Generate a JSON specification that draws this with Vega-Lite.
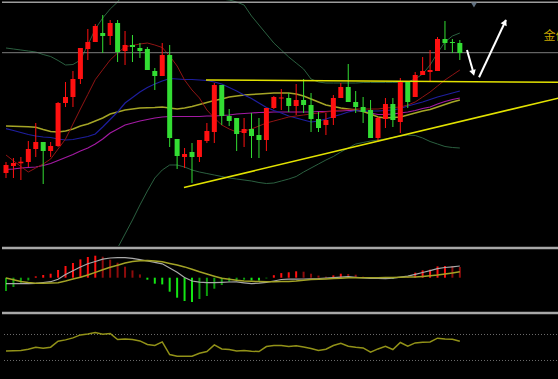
{
"$schema":"https://vega.github.io/schema/vega-lite/v6.json",
"background":"#000000",
"padding":0,
"spacing":0,
"config":{"view":{"stroke":null}},
"resolve":{"scale":{"x":"independent","y":"independent","color":"independent"}},
"datasets":{
"k":[
{"i":0,"o":73,"c":81,"hi":84,"lo":68,"m1":91,"m2":117.3,"m3":120,"m4":76.5,"ub":198,"lb":-60,"hs":-1.33,"tr":"dw","dif":-0.6,"dea":-0.02,"rsi":44.6},
{"i":1,"o":80,"c":83,"hi":88,"lo":68,"m1":85.2,"m2":115.5,"m3":119.7,"m4":77,"ub":197,"lb":-62,"hs":-0.93,"tr":"dw","dif":-0.6,"dea":-0.2,"rsi":45.1},
{"i":2,"o":82.7,"c":84.3,"hi":89,"lo":66,"m1":79.5,"m2":113.5,"m3":119.5,"m4":78,"ub":196,"lb":-64,"hs":-0.5,"tr":"dw","dif":-0.6,"dea":-0.38,"rsi":45.4},
{"i":3,"o":84,"c":97,"hi":105,"lo":79,"m1":74,"m2":111.5,"m3":119.2,"m4":78.5,"ub":195,"lb":-66,"hs":-0.27,"tr":"dw","dif":-0.6,"dea":-0.48,"rsi":47.4},
{"i":4,"o":97,"c":104,"hi":123,"lo":89,"m1":78,"m2":110,"m3":118.8,"m4":79,"ub":194,"lb":-68,"hs":0.13,"tr":"up","dif":-0.57,"dea":-0.56,"rsi":50.5},
{"i":5,"o":104,"c":95,"hi":104,"lo":62,"m1":82,"m2":109,"m3":116.5,"m4":80.5,"ub":191.5,"lb":-68,"hs":0.27,"tr":"up","dif":-0.48,"dea":-0.55,"rsi":48.9},
{"i":6,"o":95,"c":100,"hi":104,"lo":89,"m1":87,"m2":108.5,"m3":114.5,"m4":82.5,"ub":189.5,"lb":-66,"hs":0.4,"tr":"up","dif":-0.4,"dea":-0.52,"rsi":50.5},
{"i":7,"o":100,"c":143,"hi":144,"lo":99,"m1":97,"m2":107,"m3":114,"m4":85.5,"ub":185.5,"lb":-62,"hs":0.77,"tr":"up","dif":-0.15,"dea":-0.5,"rsi":59.7},
{"i":8,"o":143,"c":149,"hi":164,"lo":139,"m1":107,"m2":106,"m3":115,"m4":88.5,"ub":181,"lb":-56,"hs":1.17,"tr":"up","dif":0.32,"dea":-0.33,"rsi":61.7},
{"i":9,"o":149,"c":167,"hi":175,"lo":139,"m1":122,"m2":106.5,"m3":117,"m4":91.5,"ub":181.5,"lb":-50,"hs":1.47,"tr":"up","dif":0.7,"dea":-0.13,"rsi":64.8},
{"i":10,"o":167,"c":198,"hi":198,"lo":162,"m1":137,"m2":108,"m3":120,"m4":95,"ub":186,"lb":-44,"hs":1.83,"tr":"up","dif":1.07,"dea":0.05,"rsi":69.4},
{"i":11,"o":197,"c":204,"hi":217,"lo":186,"m1":151.6,"m2":109.5,"m3":122,"m4":98,"ub":201,"lb":-37,"hs":2.07,"tr":"up","dif":1.4,"dea":0.27,"rsi":70.9},
{"i":12,"o":204,"c":220,"hi":222,"lo":204,"m1":166.4,"m2":112,"m3":125,"m4":102,"ub":217,"lb":-29,"hs":2.2,"tr":"up","dif":1.62,"dea":0.53,"rsi":73.1},
{"i":13,"o":213,"c":210,"hi":231,"lo":193,"m1":176.3,"m2":119,"m3":128,"m4":107,"ub":228,"lb":-19,"hs":2.1,"tr":"uw","dif":1.85,"dea":0.79,"rsi":70.5},
{"i":14,"o":210,"c":223,"hi":226,"lo":201,"m1":186,"m2":126.5,"m3":132,"m4":113,"ub":237,"lb":-12,"hs":1.8,"tr":"uw","dif":1.97,"dea":1.04,"rsi":71.5},
{"i":15,"o":223,"c":194,"hi":226,"lo":184,"m1":193,"m2":134,"m3":134,"m4":117,"ub":244,"lb":-2,"hs":1.5,"tr":"uw","dif":2.0,"dea":1.25,"rsi":62.3},
{"i":16,"o":195,"c":201,"hi":215,"lo":181,"m1":199.2,"m2":143,"m3":136,"m4":121,"ub":254,"lb":12,"hs":1.1,"tr":"uw","dif":2.0,"dea":1.47,"rsi":63.2},
{"i":17,"o":201,"c":199,"hi":211,"lo":184,"m1":200.6,"m2":148.5,"m3":137,"m4":123,"ub":260,"lb":26,"hs":0.73,"tr":"uw","dif":1.94,"dea":1.61,"rsi":62.3},
{"i":18,"o":198,"c":195,"hi":203,"lo":188,"m1":202,"m2":154,"m3":138,"m4":125,"ub":264,"lb":41,"hs":0.33,"tr":"uw","dif":1.81,"dea":1.69,"rsi":60.1},
{"i":19,"o":197,"c":176,"hi":199,"lo":176,"m1":203,"m2":158.5,"m3":138.3,"m4":126.5,"ub":266,"lb":55,"hs":-0.2,"tr":"dn","dif":1.67,"dea":1.73,"rsi":54.6},
{"i":20,"o":175,"c":170,"hi":178,"lo":156,"m1":201,"m2":162,"m3":138.5,"m4":128,"ub":268,"lb":68,"hs":-0.6,"tr":"dn","dif":1.53,"dea":1.66,"rsi":53.1},
{"i":21,"o":170,"c":191,"hi":203,"lo":170,"m1":198.5,"m2":165,"m3":139,"m4":129,"ub":268,"lb":76,"hs":-0.67,"tr":"dn","dif":1.39,"dea":1.6,"rsi":58.6},
{"i":22,"o":191,"c":108,"hi":201,"lo":99,"m1":190,"m2":167.5,"m3":138,"m4":129.5,"ub":266,"lb":81,"hs":-1.4,"tr":"dn","dif":0.97,"dea":1.43,"rsi":39.2},
{"i":23,"o":107,"c":90,"hi":107,"lo":77,"m1":180,"m2":167,"m3":137,"m4":129.5,"ub":264,"lb":81,"hs":-2.0,"tr":"dn","dif":0.54,"dea":1.27,"rsi":36.6},
{"i":24,"o":89,"c":92,"hi":98,"lo":78,"m1":166,"m2":166.5,"m3":138,"m4":129.5,"ub":261,"lb":79,"hs":-2.33,"tr":"dn","dif":0.02,"dea":1.08,"rsi":36.6},
{"i":25,"o":94,"c":89,"hi":103,"lo":63,"m1":156,"m2":166.5,"m3":139.5,"m4":129.5,"ub":258,"lb":76,"hs":-2.43,"tr":"dn","dif":-0.33,"dea":0.84,"rsi":36.6},
{"i":26,"o":89,"c":106,"hi":106,"lo":84,"m1":148,"m2":166,"m3":141.5,"m4":129.5,"ub":255,"lb":74,"hs":-2.13,"tr":"dw","dif":-0.45,"dea":0.59,"rsi":41.2},
{"i":27,"o":105,"c":115,"hi":123,"lo":103,"m1":136,"m2":165.5,"m3":143.5,"m4":130,"ub":252,"lb":72.5,"hs":-1.83,"tr":"dw","dif":-0.5,"dea":0.37,"rsi":43.8},
{"i":28,"o":114,"c":161,"hi":163,"lo":103,"m1":128,"m2":164,"m3":145.5,"m4":130,"ub":249,"lb":71,"hs":-1.1,"tr":"dw","dif":-0.5,"dea":0.15,"rsi":54},
{"i":29,"o":161,"c":130,"hi":161,"lo":121,"m1":121,"m2":162,"m3":147,"m4":130.5,"ub":247,"lb":69.5,"hs":-0.73,"tr":"dw","dif":-0.47,"dea":-0.06,"rsi":47.8},
{"i":30,"o":130,"c":125,"hi":137,"lo":120,"m1":117,"m2":158.5,"m3":149,"m4":131,"ub":246,"lb":68,"hs":-0.4,"tr":"dw","dif":-0.43,"dea":-0.16,"rsi":46.9},
{"i":31,"o":128,"c":112,"hi":128,"lo":95,"m1":114,"m2":155,"m3":150,"m4":132,"ub":244,"lb":67,"hs":-0.27,"tr":"dw","dif":-0.42,"dea":-0.26,"rsi":44.8},
{"i":32,"o":113,"c":117,"hi":128,"lo":99,"m1":115,"m2":151,"m3":151,"m4":132.5,"ub":241,"lb":66,"hs":-0.2,"tr":"dw","dif":-0.51,"dea":-0.34,"rsi":45.4},
{"i":33,"o":117,"c":110,"hi":133,"lo":88,"m1":117,"m2":147.5,"m3":151.5,"m4":133,"ub":230,"lb":65,"hs":-0.27,"tr":"dn","dif":-0.59,"dea":-0.36,"rsi":44.3},
{"i":34,"o":111,"c":106,"hi":128,"lo":88,"m1":120,"m2":143,"m3":152,"m4":133.5,"ub":221,"lb":63.5,"hs":-0.27,"tr":"dn","dif":-0.55,"dea":-0.39,"rsi":43.8},
{"i":35,"o":106,"c":138,"hi":138,"lo":95,"m1":123,"m2":138.5,"m3":152.5,"m4":133.7,"ub":212,"lb":62.5,"hs":-0.07,"tr":"dw","dif":-0.47,"dea":-0.41,"rsi":51.5},
{"i":36,"o":138,"c":149,"hi":150,"lo":137,"m1":125,"m2":135.5,"m3":153,"m4":134,"ub":203,"lb":63,"hs":0.25,"tr":"up","dif":-0.33,"dea":-0.41,"rsi":53.1},
{"i":37,"o":147.5,"c":148.5,"hi":157,"lo":136,"m1":127,"m2":133,"m3":153,"m4":134,"ub":196,"lb":65,"hs":0.46,"tr":"up","dif":-0.18,"dea":-0.38,"rsi":53.1},
{"i":38,"o":148,"c":140,"hi":153,"lo":134,"m1":129,"m2":130,"m3":153,"m4":134,"ub":189,"lb":67,"hs":0.54,"tr":"up","dif":-0.15,"dea":-0.38,"rsi":51.5},
{"i":39,"o":140,"c":146,"hi":162,"lo":131,"m1":130,"m2":128,"m3":152,"m4":134,"ub":183,"lb":69.5,"hs":0.64,"tr":"up","dif":-0.14,"dea":-0.33,"rsi":52.5},
{"i":40,"o":146,"c":141,"hi":167,"lo":133,"m1":131,"m2":126,"m3":150,"m4":134,"ub":177,"lb":74,"hs":0.6,"tr":"uw","dif":-0.13,"dea":-0.26,"rsi":50.9},
{"i":41,"o":141,"c":127,"hi":153,"lo":114,"m1":132,"m2":124,"m3":147,"m4":134,"ub":167,"lb":78,"hs":0.4,"tr":"uw","dif":-0.11,"dea":-0.19,"rsi":48.5},
{"i":42,"o":127,"c":118,"hi":134,"lo":114,"m1":133,"m2":125,"m3":144,"m4":134.5,"ub":164,"lb":82,"hs":0.21,"tr":"uw","dif":-0.08,"dea":-0.15,"rsi":45.4},
{"i":43,"o":121,"c":126,"hi":133,"lo":111,"m1":134,"m2":127,"m3":141,"m4":134.5,"ub":163,"lb":86,"hs":0.1,"tr":"uw","dif":-0.03,"dea":-0.12,"rsi":47.4},
{"i":44,"o":128,"c":148,"hi":151,"lo":121,"m1":135,"m2":129.5,"m3":139.5,"m4":135,"ub":163,"lb":89.5,"hs":0.23,"tr":"up","dif":0.01,"dea":-0.08,"rsi":53.1},
{"i":45,"o":148,"c":159,"hi":163,"lo":148,"m1":136,"m2":131.5,"m3":138,"m4":135,"ub":163,"lb":94,"hs":0.4,"tr":"up","dif":0.05,"dea":-0.05,"rsi":56.6},
{"i":46,"o":159,"c":144,"hi":182,"lo":144,"m1":136.5,"m2":134,"m3":137,"m4":135.5,"ub":163,"lb":98,"hs":0.37,"tr":"uw","dif":0.1,"dea":0,"rsi":52},
{"i":47,"o":144,"c":139,"hi":155,"lo":133,"m1":137,"m2":135.5,"m3":136,"m4":135.5,"ub":163,"lb":102,"hs":0.3,"tr":"uw","dif":0.04,"dea":0,"rsi":50.5},
{"i":48,"o":139,"c":134,"hi":149,"lo":123,"m1":137,"m2":135,"m3":134.5,"m4":135,"ub":163.5,"lb":103.5,"hs":0.1,"tr":"uw","dif":-0.02,"dea":0,"rsi":49.4},
{"i":49,"o":136,"c":108,"hi":146,"lo":108,"m1":137,"m2":135,"m3":132,"m4":133,"ub":163.5,"lb":105,"hs":-0.07,"tr":"dn","dif":-0.06,"dea":0,"rsi":42.8},
{"i":50,"o":108,"c":128,"hi":129,"lo":104,"m1":137,"m2":135,"m3":129,"m4":131.5,"ub":163.5,"lb":106,"hs":-0.1,"tr":"dn","dif":-0.08,"dea":0,"rsi":47.8},
{"i":51,"o":127,"c":142,"hi":148,"lo":118,"m1":138,"m2":135.5,"m3":128,"m4":131.5,"ub":163.5,"lb":107,"hs":0.03,"tr":"up","dif":-0.09,"dea":0.01,"rsi":52},
{"i":52,"o":142,"c":126,"hi":148,"lo":119,"m1":138.5,"m2":136,"m3":128.5,"m4":132,"ub":163.5,"lb":108.5,"hs":-0.1,"tr":"dn","dif":-0.05,"dea":0.03,"rsi":46.9},
{"i":53,"o":124,"c":165,"hi":168,"lo":113,"m1":139,"m2":137.5,"m3":129,"m4":133,"ub":163.5,"lb":110,"hs":0.05,"tr":"up","dif":0.06,"dea":0.04,"rsi":57.7},
{"i":54,"o":165,"c":144,"hi":165,"lo":138,"m1":141,"m2":140,"m3":131,"m4":134,"ub":164,"lb":111,"hs":0.05,"tr":"up","dif":0.16,"dea":0.06,"rsi":52},
{"i":55,"o":149,"c":171,"hi":174,"lo":149,"m1":144,"m2":142,"m3":133,"m4":135.5,"ub":167,"lb":110.5,"hs":0.5,"tr":"up","dif":0.33,"dea":0.07,"rsi":57.1},
{"i":56,"o":171,"c":175,"hi":189,"lo":171,"m1":149,"m2":144,"m3":135,"m4":137.5,"ub":172,"lb":108,"hs":0.73,"tr":"up","dif":0.52,"dea":0.13,"rsi":58.1},
{"i":57,"o":174,"c":176,"hi":196,"lo":164,"m1":154,"m2":146.5,"m3":136.5,"m4":139,"ub":181,"lb":104.5,"hs":0.8,"tr":"up","dif":0.71,"dea":0.19,"rsi":58.6},
{"i":58,"o":175,"c":207,"hi":209,"lo":175,"m1":160,"m2":149,"m3":139,"m4":142,"ub":193,"lb":102,"hs":1.13,"tr":"up","dif":0.91,"dea":0.26,"rsi":64.3},
{"i":59,"o":207,"c":203,"hi":225,"lo":196,"m1":166,"m2":151,"m3":141.5,"m4":144.5,"ub":204,"lb":99.5,"hs":1.17,"tr":"up","dif":1.02,"dea":0.37,"rsi":63.2},
{"i":60,"o":204,"c":203,"hi":207,"lo":193,"m1":171,"m2":153,"m3":144,"m4":146.5,"ub":210,"lb":98.5,"hs":1.17,"tr":"uw","dif":1.09,"dea":0.48,"rsi":62.8},
{"i":61,"o":203,"c":193,"hi":206,"lo":186,"m1":176,"m2":155,"m3":146,"m4":148,"ub":213,"lb":98,"hs":1.07,"tr":"uw","dif":1.17,"dea":0.6,"rsi":59.7}
],
"tl":[{"id":"h","i":26.88,"h":166},{"id":"h","i":74.46,"h":163.7},{"id":"a","i":23.92,"h":58.5},{"id":"a","i":74.33,"h":148}],
"ar":[{"id":"d","i":61.96,"h":196},{"id":"d","i":62.84,"h":173},{"id":"u","i":63.58,"h":168.7},{"id":"u","i":67.2,"h":226}],
"ah":[{"id":"d","i":62.77,"h":174},{"id":"u","i":67.0,"h":223}]
},
"vconcat":[
{"width":558,"height":246,
"layer":[
{"data":{"name":"k"},"mark":{"type":"line","color":"#2b6040","strokeWidth":1,"clip":true},
 "encoding":{"x":{"field":"i","type":"quantitative","scale":{"domain":[-0.538,74.462],"nice":false,"zero":false,"padding":0},"axis":null},
 "y":{"field":"ub","type":"quantitative","scale":{"domain":[0,246],"nice":false,"zero":false,"padding":0},"axis":null}}},
{"data":{"name":"k"},"mark":{"type":"line","color":"#2b6040","strokeWidth":1,"clip":true},
 "encoding":{"x":{"field":"i","type":"quantitative","axis":null},"y":{"field":"lb","type":"quantitative","axis":null}}},
{"data":{"name":"k"},"mark":{"type":"line","color":"#a31aa3","strokeWidth":1.2,"clip":true},
 "encoding":{"x":{"field":"i","type":"quantitative","axis":null},"y":{"field":"m4","type":"quantitative","axis":null}}},
{"data":{"name":"k"},"mark":{"type":"line","color":"#a5a526","strokeWidth":1.5,"clip":true},
 "encoding":{"x":{"field":"i","type":"quantitative","axis":null},"y":{"field":"m3","type":"quantitative","axis":null}}},
{"data":{"name":"k"},"mark":{"type":"line","color":"#1e1e9e","strokeWidth":1.2,"clip":true},
 "encoding":{"x":{"field":"i","type":"quantitative","axis":null},"y":{"field":"m2","type":"quantitative","axis":null}}},
{"data":{"name":"k"},"mark":{"type":"line","color":"#901414","strokeWidth":1,"clip":true},
 "encoding":{"x":{"field":"i","type":"quantitative","axis":null},"y":{"field":"m1","type":"quantitative","axis":null}}},
{"data":{"values":[{}]},"mark":{"type":"rule","color":"#7c7c7c","strokeWidth":1},
 "encoding":{"y":{"datum":193.3,"type":"quantitative","axis":null}}},
{"data":{"values":[{}]},"mark":{"type":"rule","color":"#9c9c9c","strokeWidth":1.5},
 "encoding":{"y":{"datum":243.8,"type":"quantitative","axis":null}}},
{"data":{"name":"k"},"mark":{"type":"rule","strokeWidth":1},
 "encoding":{"x":{"field":"i","type":"quantitative","axis":null},"y":{"field":"lo","type":"quantitative","axis":null},"y2":{"field":"hi"},
 "color":{"condition":{"test":"datum.c >= datum.o","value":"#ff1010"},"value":"#33dd33"}}},
{"data":{"name":"k"},"mark":{"type":"bar","size":5,"orient":"vertical"},
 "encoding":{"x":{"field":"i","type":"quantitative","axis":null},"y":{"field":"o","type":"quantitative","axis":null},"y2":{"field":"c"},
 "color":{"condition":{"test":"datum.c >= datum.o","value":"#ff1010"},"value":"#33dd33"}}},
{"data":{"name":"tl"},"mark":{"type":"line","color":"#e2e200","strokeWidth":1.6,"clip":true},
 "encoding":{"x":{"field":"i","type":"quantitative","axis":null},"y":{"field":"h","type":"quantitative","axis":null},"detail":{"field":"id"}}},
{"data":{"name":"ar"},"mark":{"type":"line","color":"#ffffff","strokeWidth":2},
 "encoding":{"x":{"field":"i","type":"quantitative","axis":null},"y":{"field":"h","type":"quantitative","axis":null},"detail":{"field":"id"}}},
{"data":{"name":"ah"},"transform":[{"filter":"datum.id == 'd'"}],"mark":{"type":"point","shape":"triangle","angle":164,"filled":true,"color":"#ffffff","size":45,"opacity":1},
 "encoding":{"x":{"field":"i","type":"quantitative","axis":null},"y":{"field":"h","type":"quantitative","axis":null}}},
{"data":{"name":"ah"},"transform":[{"filter":"datum.id == 'u'"}],"mark":{"type":"point","shape":"triangle","angle":25,"filled":true,"color":"#ffffff","size":45,"opacity":1},
 "encoding":{"x":{"field":"i","type":"quantitative","axis":null},"y":{"field":"h","type":"quantitative","axis":null}}},
{"data":{"values":[{"i":62.9,"h":241}]},"mark":{"type":"point","shape":"triangle-down","filled":true,"color":"#607080","size":35,"opacity":1},
 "encoding":{"x":{"field":"i","type":"quantitative","axis":null},"y":{"field":"h","type":"quantitative","axis":null}}},
{"data":{"values":[{"i":72.26,"h":210.5,"t":"金价"}]},"mark":{"type":"text","align":"left","baseline":"middle","color":"#c9a400","fontSize":12,"font":"Noto Sans CJK SC","clip":true},
 "encoding":{"x":{"field":"i","type":"quantitative","axis":null},"y":{"field":"h","type":"quantitative","axis":null},"text":{"field":"t"}}}
]},
{"width":558,"height":64,
"layer":[
{"data":{"values":[{}]},"mark":{"type":"rule","color":"#a8a8a8","strokeWidth":2.5},
 "encoding":{"y":{"datum":2.97,"type":"quantitative","scale":{"domain":[-3.33,3.07],"nice":false,"zero":false,"padding":0},"axis":null}}},
{"data":{"name":"k"},"mark":{"type":"bar","size":2,"orient":"vertical"},
 "encoding":{"x":{"field":"i","type":"quantitative","scale":{"domain":[-0.538,74.462],"nice":false,"zero":false,"padding":0},"axis":null},
 "y":{"field":"hs","type":"quantitative","axis":null},"y2":{"datum":0},
 "color":{"field":"tr","type":"nominal","scale":{"domain":["up","uw","dn","dw"],"range":["#ff1010","#8e0c0c","#14e614","#0c9e0c"]},"legend":null}}},
{"data":{"name":"k"},"mark":{"type":"line","color":"#a9a9a9","strokeWidth":1.2},
 "encoding":{"x":{"field":"i","type":"quantitative","axis":null},"y":{"field":"dif","type":"quantitative","axis":null}}},
{"data":{"name":"k"},"mark":{"type":"line","color":"#a3a326","strokeWidth":1.5},
 "encoding":{"x":{"field":"i","type":"quantitative","axis":null},"y":{"field":"dea","type":"quantitative","axis":null}}}
]},
{"width":558,"height":69,
"layer":[
{"data":{"values":[{}]},"mark":{"type":"rule","color":"#a8a8a8","strokeWidth":2.5},
 "encoding":{"y":{"datum":103.06,"type":"quantitative","scale":{"domain":[-1.54,104.6],"nice":false,"zero":false,"padding":0},"axis":null}}},
{"data":{"values":[{"lv":70},{"lv":30}]},"mark":{"type":"rule","color":"#6c6c6c","strokeWidth":1,"strokeDash":[1,2]},
 "encoding":{"y":{"field":"lv","type":"quantitative","axis":null}}},
{"data":{"name":"k"},"mark":{"type":"line","color":"#929218","strokeWidth":1.5},
 "encoding":{"x":{"field":"i","type":"quantitative","scale":{"domain":[-0.538,74.462],"nice":false,"zero":false,"padding":0},"axis":null},
 "y":{"field":"rsi","type":"quantitative","axis":null}}}
]}
]
}
